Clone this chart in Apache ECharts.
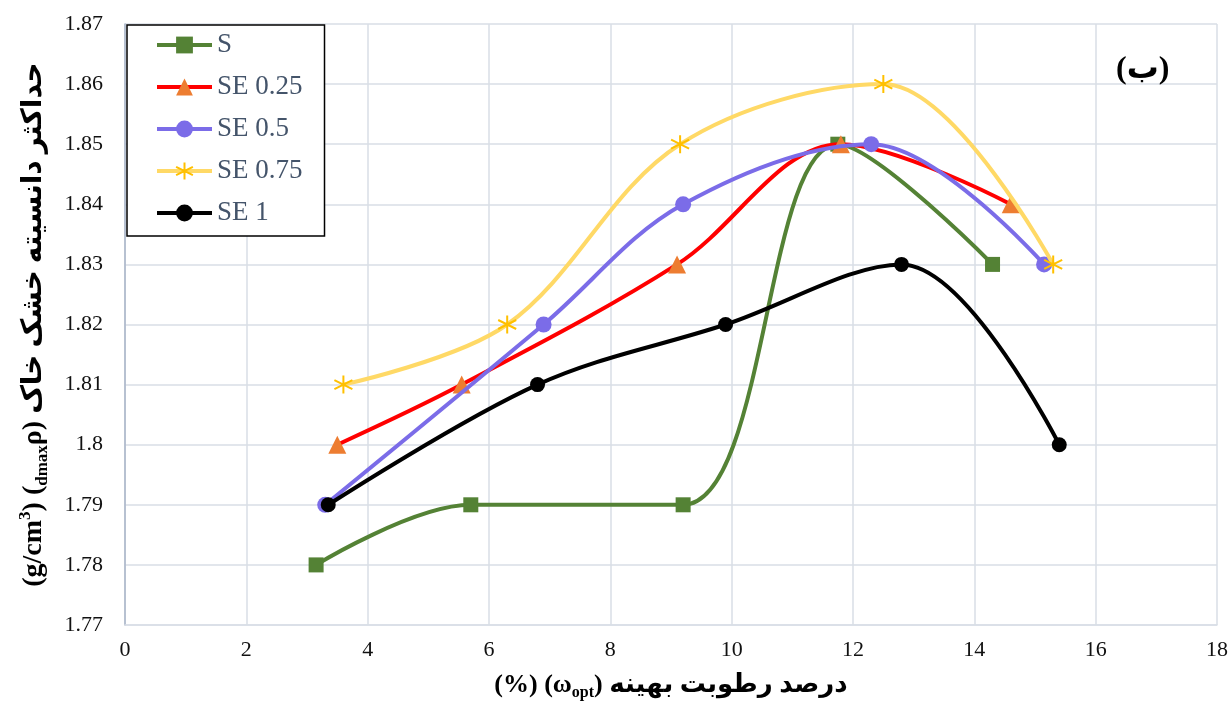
<!DOCTYPE html>
<html><head><meta charset="utf-8">
<script src="https://cdn.jsdelivr.net/npm/echarts@6/dist/echarts.min.js"></script>
<style>html,body{margin:0;padding:0;background:#fff}#c{width:1230px;height:702px}</style>
</head><body><div id="c"></div>
<script>
const seriesNames = ['S', 'SE 0.25', 'SE 0.5', 'SE 0.75', 'SE 1'];
const xS    = [3.15, 5.7, 9.2, 11.75, 14.3];
const yS    = [1.78, 1.79, 1.79, 1.85, 1.83];
const xSE25 = [3.5, 5.55, 9.1, 11.8, 14.6];
const ySE25 = [1.80, 1.81, 1.83, 1.85, 1.84];
const xSE5  = [3.3, 6.9, 9.2, 12.3, 15.15];
const ySE5  = [1.79, 1.82, 1.84, 1.85, 1.83];
const xSE75 = [3.6, 6.3, 9.15, 12.5, 15.3];
const ySE75 = [1.81, 1.82, 1.85, 1.86, 1.83];
const xSE1  = [3.35, 6.8, 9.9, 12.8, 15.4];
const ySE1  = [1.79, 1.81, 1.82, 1.83, 1.80];
const xTicks = [0, 2, 4, 6, 8, 10, 12, 14, 16, 18];

const pairs = (xs, ys) => xs.map((x, i) => [x, ys[i]]);
const serif = '"Liberation Serif", "Times New Roman", "DejaVu Sans", serif';
const starPath = 'path://M0,-10L0,10M-8.66,-5L8.66,5M-8.66,5L8.66,-5';

const styles = [
  {data: pairs(xS, yS), line: '#548235', item: '#548235', symbol: 'rect', size: 15},
  {data: pairs(xSE25, ySE25), line: '#FF0000', item: '#ED7D31', symbol: 'triangle', size: 18},
  {data: pairs(xSE5, ySE5), line: '#7B6CE8', item: '#7B6CE8', symbol: 'circle', size: 16},
  {data: pairs(xSE75, ySE75), line: '#FFD966', item: '#FFC000', symbol: starPath, size: 18, star: true},
  {data: pairs(xSE1, ySE1), line: '#000000', item: '#000000', symbol: 'circle', size: 15}
];

const chart = echarts.init(document.getElementById('c'), null, {renderer: 'canvas'});
chart.setOption({
  animation: false,
  backgroundColor: '#fff',
  grid: {left: 125, right: 13, top: 24, bottom: 77, containLabel: false, outerBoundsMode: 'none'},
  legend: {
    orient: 'vertical', left: 127, top: 25,
    itemWidth: 55, itemHeight: 21, itemGap: 14,
    padding: [6, 22, 9, 28],
    borderColor: '#000', borderWidth: 1.5, backgroundColor: '#fff',
    lineStyle: {width: 4},
    textStyle: {fontFamily: serif, fontSize: 27, lineHeight: 28, color: '#44546A'},
    data: seriesNames
  },
  xAxis: {
    type: 'value', min: 0, max: 18, interval: 2,
    axisLine: {show: true, lineStyle: {color: '#D9DEE6', width: 1.5}},
    axisTick: {show: false},
    splitLine: {show: true, lineStyle: {color: '#D9DEE6', width: 1.5}},
    axisLabel: {fontFamily: serif, fontSize: 22, color: '#111', margin: 14,
      formatter: v => String(v)},
    name: '{b|(%) (ω}{s|opt}{b|) درصد رطوبت بهینه}',
    nameLocation: 'middle', nameGap: 44,
    nameTextStyle: {
      rich: {
        b: {fontFamily: serif, fontSize: 26, fontWeight: 'bold', color: '#000', lineHeight: 32},
        s: {fontFamily: serif, fontSize: 16, fontWeight: 'bold', color: '#000', verticalAlign: 'bottom', lineHeight: 18}
      }
    }
  },
  yAxis: {
    type: 'value', min: 1.77, max: 1.87, interval: 0.01,
    axisLine: {show: true, lineStyle: {color: '#A9B4C8', width: 1.5}},
    axisTick: {show: false},
    splitLine: {show: true, lineStyle: {color: '#D9DEE6', width: 1.5}},
    axisLabel: {fontFamily: serif, fontSize: 22, color: '#111', margin: 22,
      formatter: v => String(parseFloat(v.toFixed(2)))},
    name: '{b|(g/cm}{p|3}{b|) (}{s|dmax}{b|ρ) حداکثر دانسیته خشک خاک}',
    nameLocation: 'middle', nameGap: 74, nameRotate: 90,
    nameTextStyle: {
      rich: {
        b: {fontFamily: serif, fontSize: 28, fontWeight: 'bold', color: '#000', lineHeight: 34},
        s: {fontFamily: serif, fontSize: 17, fontWeight: 'bold', color: '#000', verticalAlign: 'bottom', lineHeight: 20},
        p: {fontFamily: serif, fontSize: 17, fontWeight: 'bold', color: '#000', verticalAlign: 'top', lineHeight: 20}
      }
    }
  },
  graphic: [{
    type: 'text', left: 1116, top: 54, z: 100,
    style: {text: '(ب)', font: 'bold 32px "Liberation Serif", "DejaVu Sans", serif', fill: '#000'}
  }],
  series: styles.map((s, i) => ({
    name: seriesNames[i], type: 'line', smooth: 0.35,
    data: s.data,
    symbol: s.symbol, symbolSize: s.size, showSymbol: true,
    lineStyle: {color: s.line, width: 4},
    itemStyle: s.star ? {color: s.item, borderColor: s.item, borderWidth: 2} : {color: s.item, borderWidth: 0},
    z: 2 + i
  }))
});
</script></body></html>
